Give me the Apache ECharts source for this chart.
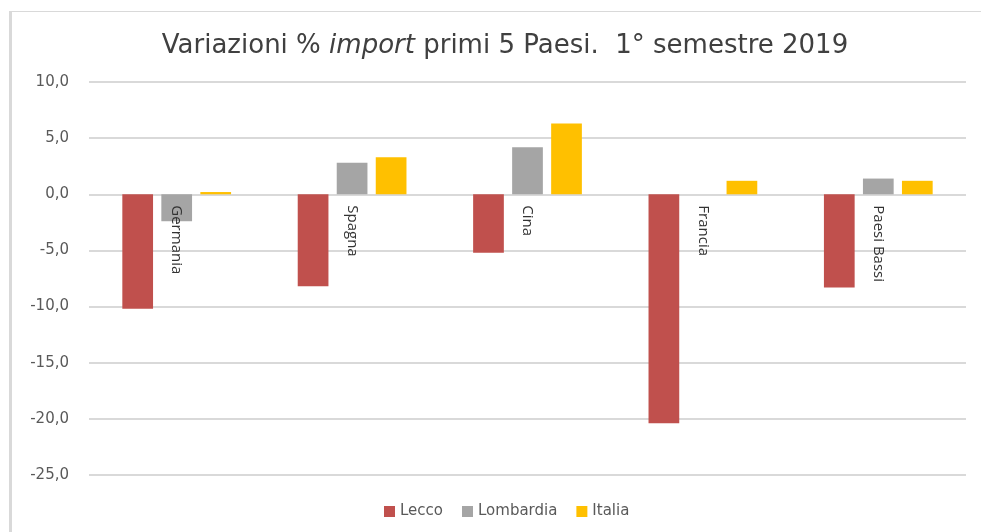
<!DOCTYPE html>
<html>
<head>
<meta charset="utf-8">
<script src="https://cdn.jsdelivr.net/npm/echarts@6/dist/echarts.min.js"></script>
<style>html,body{margin:0;padding:0;background:#fff}#c{width:981px;height:532px}</style>
</head>
<body>
<div id="c"></div>
<script>
const categories = ['Germania', 'Spagna', 'Cina', 'Francia', 'Paesi Bassi'];
const lecco = [-10.2, -8.2, -5.2, -20.4, -8.3];
const lombardia = [-2.4, 2.8, 4.2, 0.0, 1.4];
const italia = [0.2, 3.3, 6.3, 1.2, 1.2];
const seriesNames = ['Lecco', 'Lombardia', 'Italia'];
const yTicks = { min: -25, max: 10, interval: 5 };

const chart = echarts.init(document.getElementById('c'), null, { renderer: 'canvas' });
const font = 'Open Sans, Noto Sans, sans-serif';
const wide = 'DejaVu Sans, sans-serif';
chart.setOption({
  animation: false,
  backgroundColor: '#fff',
  title: {
    text: '{n|Variazioni % }{i|import}{n| primi 5 Paesi.  1° semestre 2019}',
    left: 500,
    textAlign: 'center',
    top: 28,
    textStyle: {
      rich: {
        n: { fontFamily: wide, fontSize: 26, fontWeight: 'normal', color: '#404040' },
        i: { fontFamily: wide, fontSize: 26, fontWeight: 'normal', color: '#404040', fontStyle: 'italic' }
      }
    }
  },
  legend: {
    data: seriesNames,
    bottom: 8,
    left: 379,
    itemWidth: 11,
    itemHeight: 11,
    itemGap: 19,
    icon: 'rect',
    textStyle: { fontFamily: wide, fontSize: 15, color: '#595959' }
  },
  grid: { left: 89, right: 15, top: 82, bottom: 57, containLabel: false, outerBoundsMode: 'none' },
  xAxis: {
    type: 'category',
    data: categories,
    axisLine: { show: false },
    axisTick: { show: false },
    axisLabel: { show: false }
  },
  yAxis: {
    type: 'value',
    min: yTicks.min,
    max: yTicks.max,
    interval: yTicks.interval,
    axisLine: { show: false },
    axisTick: { show: false },
    splitLine: { lineStyle: { color: '#d9d9d9', width: 2 } },
    axisLabel: {
      margin: 20,
      fontFamily: wide,
      fontSize: 15,
      color: '#595959',
      formatter: v => v.toFixed(1).replace('.', ',')
    }
  },
  series: [
    { name: 'Lecco', type: 'bar', data: lecco, itemStyle: { color: '#c0504d' }, barGap: '27%', barCategoryGap: '38%' },
    { name: 'Lombardia', type: 'bar', data: lombardia, itemStyle: { color: '#a5a5a5' } },
    { name: 'Italia', type: 'bar', data: italia, itemStyle: { color: '#ffc000' } },
    {
      name: 'labels', type: 'scatter', symbolSize: 0, silent: true, z: 5,
      data: categories.map(c => [c, 0]),
      itemStyle: { opacity: 1 },
      label: {
        show: true,
        formatter: p => p.name || p.value[0],
        position: 'bottom',
        distance: 11,
        rotate: -90,
        align: 'left',
        verticalAlign: 'middle',
        fontFamily: font,
        fontSize: 15,
        color: '#333333',
        textBorderWidth: 0,
        opacity: 1
      }
    }
  ],
  graphic: [
    { type: 'line', shape: { x1: 10.5, y1: 11, x2: 10.5, y2: 532 }, style: { stroke: '#d9d9d9', lineWidth: 3 } },
    { type: 'line', shape: { x1: 9, y1: 11.5, x2: 981, y2: 11.5 }, style: { stroke: '#d9d9d9', lineWidth: 1 } }
  ]
});
</script>
</body>
</html>
